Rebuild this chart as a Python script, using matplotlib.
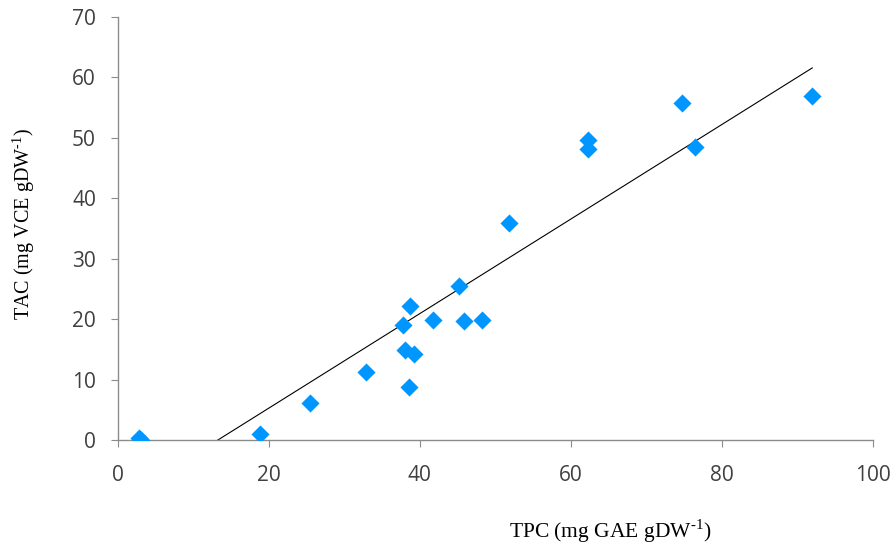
import numpy as np
import matplotlib
matplotlib.use('Agg')
import matplotlib.pyplot as plt

plt.rcParams['mathtext.fontset'] = 'custom'
plt.rcParams['mathtext.rm'] = 'Liberation Serif'

# TPC vs TAC data
tpc = [2.7, 3.0, 18.8, 25.4, 32.8, 37.7, 38.7, 38.0, 39.2, 38.5, 41.7, 45.2,
       45.9, 48.2, 51.8, 62.3, 62.3, 74.7, 76.5, 92.0]
tac = [0.3, 0.0, 1.0, 6.2, 11.3, 19.0, 22.1, 14.9, 14.2, 8.7, 19.9, 25.5,
       19.7, 19.9, 35.9, 49.6, 48.1, 55.8, 48.5, 57.0]

x_ticks = [0, 20, 40, 60, 80, 100]
y_ticks = [0, 10, 20, 30, 40, 50, 60, 70]

fig = plt.figure(figsize=(8.95, 5.46), dpi=100)
ax = fig.add_axes([0.132, 0.194, 0.843, 0.775])

# linear trend line
slope, inter = np.polyfit(tpc, tac, 1)
xl = np.array([min(tpc), max(tpc)])
ax.plot(xl, slope * xl + inter, color='black', lw=0.8)

ax.scatter(tpc, tac, marker='D', s=85, color='#0096FF', zorder=3, linewidths=0)

ax.set_xlim(0, 100)
ax.set_ylim(0, 70)
ax.set_xticks(x_ticks)
ax.set_yticks(y_ticks)

for s in ['top', 'right']:
    ax.spines[s].set_visible(False)
for s in ['left', 'bottom']:
    ax.spines[s].set_color('#8c8c8c')
    ax.spines[s].set_linewidth(1.0)
ax.tick_params(direction='out', length=5, color='#8c8c8c', labelsize=15,
               labelcolor='#404040')
ax.tick_params(axis='x', pad=13)
ax.tick_params(axis='y', pad=11)
for lbl in ax.get_xticklabels() + ax.get_yticklabels():
    lbl.set_fontfamily('Open Sans')

ax.set_xlabel(r'TPC (mg GAE gDW$^{\text{-1}}$)', family='Liberation Serif', fontsize=15.5)
ax.set_ylabel(r'TAC (mg VCE gDW$^{\text{-1}}$)', family='Liberation Serif', fontsize=14.5)
ax.xaxis.set_label_coords(0.652, -0.183)
ax.yaxis.set_label_coords(-0.107, 0.511)

fig.savefig('out.png', dpi=100)
